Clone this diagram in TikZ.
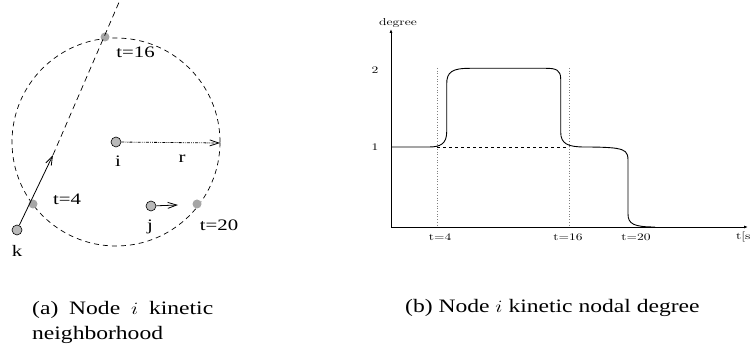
\documentclass[tikz,border=0pt]{standalone}
\usepackage{fontspec}
\usepackage{graphicx}
\newfontfamily\tms{Liberation Serif}
\usetikzlibrary{arrows.meta}
\newcommand\wideT[1]{\scalebox{1.3}[1]{#1}}
\newcommand\wideC[1]{\scalebox{1.24}[1]{#1}}
\newcommand\wideP[1]{\scalebox{1.35}[1]{#1}}
\tikzset{
  nd/.style={circle, draw, fill=gray!55, minimum size=10pt, inner sep=0pt, line width=0.6pt},
  tdot/.style={circle, fill=gray!70, minimum size=9pt, inner sep=0pt},
  lbl/.style={font=\tms\fontsize{16}{18}\selectfont, inner sep=0pt},
  plbl/.style={font=\fontsize{10}{12}\selectfont, inner sep=0pt},
  captext/.style={font=\tms\fontsize{19}{21}\selectfont, inner sep=0pt, anchor=base west},
  circdash/.style={dash pattern=on 5pt off 4pt, line width=0.7pt},
  barb/.style={-{Straight Barb[length=9pt,width=6pt]}, line width=0.8pt},
  rarr/.style={-{Straight Barb[length=9pt,width=6pt]}, line width=0.8pt,
    dash pattern=on 3pt off 1.2pt on 0.8pt off 1.2pt on 0.8pt off 1.2pt},
  axisline/.style={-{Latex[length=4pt,width=3pt]}, line width=0.8pt},
  vdot/.style={dotted, gray, line width=0.7pt},
  curveline/.style={line width=0.9pt, line join=round},
}
\begin{document}
\begin{tikzpicture}[x=1pt,y=-1pt]
\useasboundingbox (0,0) rectangle (753,352);
% ---------------- left panel ----------------
\coordinate (ctr) at (116,142);
\draw[circdash] (ctr) circle[radius=104pt];
\coordinate (top) at (120,0);
\coordinate (kend) at (53,155);
\coordinate (rend) at (220,143);
\coordinate (jend) at (178,205);
\node[tdot] (t16) at (105,37) {};
\node[tdot] (t4) at (33,204) {};
\node[tdot] (t20) at (197,204) {};
\draw[dash pattern=on 6pt off 4pt, line width=0.7pt] (kend) -- (top);
\node[nd] (i) at (116,142) {};
\node[nd] (j) at (151,206) {};
\node[nd] (k) at (17,230) {};
\draw[barb] (k) -- (kend);
\draw[rarr] (i) -- (rend);
\draw[barb] (j) -- (jend);
\node[lbl] (lt16) at (135.5,52) {\wideT{t=16}};
\node[lbl] (li) at (118,161) {\wideT{i}};
\node[lbl] (lr) at (182,158.5) {\wideT{r}};
\node[lbl] (lt4) at (67,199) {\wideT{t=4}};
\node[lbl] (lj) at (150,227) {\wideT{j}};
\node[lbl] (lt20) at (219,225) {\wideT{t=20}};
\node[lbl] (lk) at (17,251) {\wideT{k}};
% ---------------- right panel ----------------
\coordinate (o) at (391,227);
\coordinate (ytop) at (391,29);
\coordinate (xend) at (748,227);
\draw[axisline] (o) -- (ytop);
\draw[axisline] (o) -- (xend);
\draw[vdot] (437,68) -- (437,227);
\draw[vdot] (569,68) -- (569,227);
\draw[dashed, line width=0.7pt] (437,147) -- (569,147);
\draw[curveline] (391,147) -- (429,147)
  .. controls (440,147) and (446.7,144) .. (446.7,132)
  -- (446.7,84)
  .. controls (446.7,72) and (452,68.3) .. (470,68.3)
  -- (546,68.3)
  .. controls (556,68.3) and (560.7,70) .. (560.7,79)
  -- (560.7,132)
  .. controls (560.7,144) and (568,147) .. (585,147)
  .. controls (600,147) and (612,147.5) .. (617,148.5)
  .. controls (625,150) and (628,152) .. (628,160)
  -- (628,214)
  .. controls (628,224) and (634,227) .. (655,227);
\node[plbl] (ldeg) at (398,23) {\wideP{degree}};
\node[plbl] (l2) at (375,70) {\wideP{2}};
\node[plbl] (l1) at (375,147) {\wideP{1}};
\node[plbl] (xt4) at (440,237) {\wideP{t=4}};
\node[plbl] (xt16) at (568,237) {\wideP{t=16}};
\node[plbl] (xt20) at (636,237) {\wideP{t=20}};
\node[plbl, anchor=west] (xts) at (736,237) {\wideP{t[s}};
% ---------------- captions ----------------
\node[captext] (capa1) at (32,315) {\wideC{(a)\hspace{4pt} Node\hspace{4pt} $i$\hspace{4pt} kinetic}};
\node[captext] (capa2) at (32,340) {\wideC{neighborhood}};
\node[captext] (capb) at (405,313) {\wideC{(b) Node $i$ kinetic nodal degree}};
\end{tikzpicture}
\end{document}
